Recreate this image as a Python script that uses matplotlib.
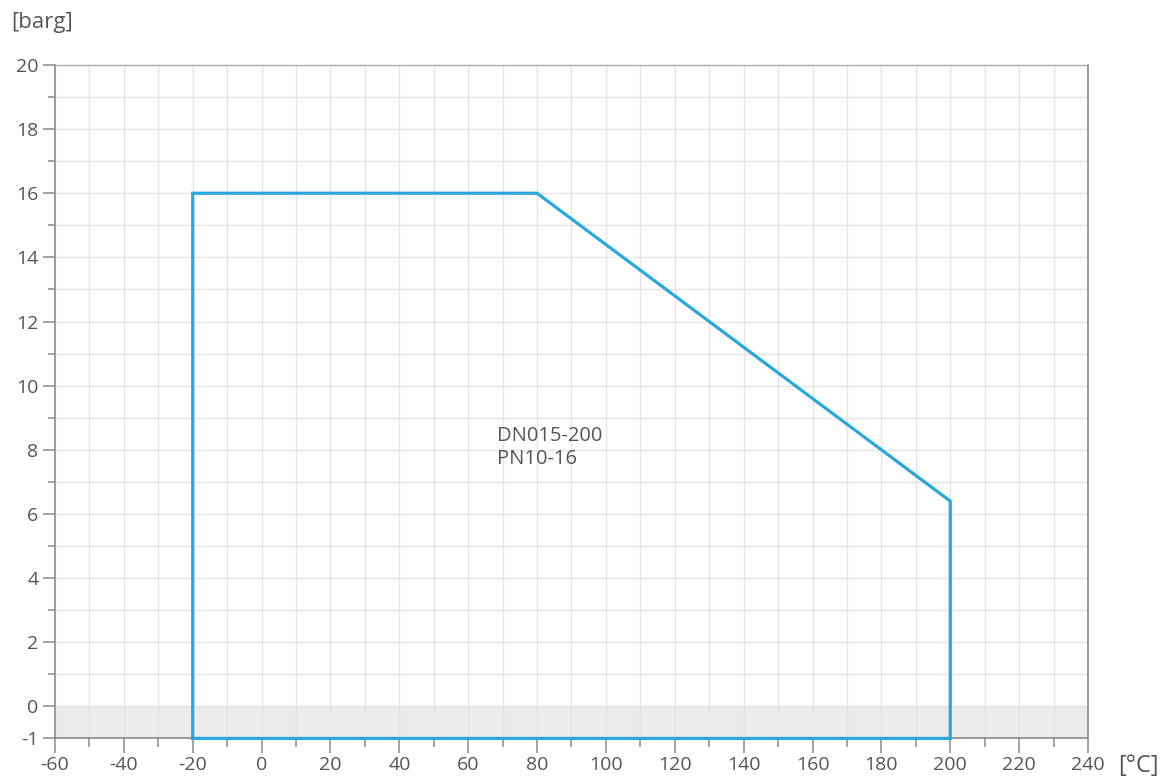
import matplotlib.pyplot as plt
from matplotlib.ticker import MultipleLocator, FixedLocator

# pressure / temperature envelope
temps = [-20, -20, 80, 200, 200, -20]
pressures = [-1, 16, 16, 6.4, -1, -1]

x_ticks = list(range(-60, 241, 20))
y_ticks = [-1] + list(range(0, 21, 2))
label_lines = ['DN015-200', 'PN10-16']

plt.rcParams['font.family'] = ['Open Sans', 'DejaVu Sans']
plt.rcParams['axes.unicode_minus'] = False
txt = '#555555'
spine = '#8a8a8a'

fig = plt.figure(figsize=(11.65, 7.81), dpi=100)
ax = fig.add_axes([0.0472, 0.0545, 0.8867, 0.8623])

ax.set_xlim(-60, 240)
ax.set_ylim(-1, 20)

ax.axhspan(-1, 0, color='#ebebeb', zorder=0)

ax.xaxis.set_major_locator(FixedLocator(x_ticks))
ax.xaxis.set_minor_locator(MultipleLocator(10))
ax.yaxis.set_major_locator(FixedLocator(y_ticks))
ax.yaxis.set_minor_locator(FixedLocator(list(range(1, 20, 2))))

ax.grid(which='both', color='#e4e4e4', linewidth=1.0, zorder=1)
ax.set_axisbelow(True)

ax.plot(temps, pressures, color='#29a8e0', linewidth=2.3, zorder=3,
        solid_joinstyle='miter', clip_on=False)

ax.text(68.3, 8.75, '\n'.join(label_lines), fontsize=14.5, color=txt,
        va='top', ha='left', linespacing=1.2)

ax.tick_params(which='major', direction='out', length=9, width=1.1,
               color=spine, labelcolor=txt, labelsize=14, pad=3)
ax.tick_params(axis='x', which='major', length=11, pad=2)
ax.tick_params(which='minor', direction='out', length=5, width=1.1, color=spine)
ax.tick_params(axis='x', which='minor', length=6.5)

for s in ['left', 'bottom', 'right']:
    ax.spines[s].set_color(spine)
    ax.spines[s].set_linewidth(1.2)
ax.spines['top'].set_color('#b0b0b0')
ax.spines['top'].set_linewidth(1.0)

fig.text(0.010, 0.971, '[barg]', fontsize=16, color=txt, va='center', ha='left')
fig.text(0.960, 0.019, '[°C]', fontsize=17, color=txt, va='center', ha='left')

fig.savefig('out.png', dpi=100)
